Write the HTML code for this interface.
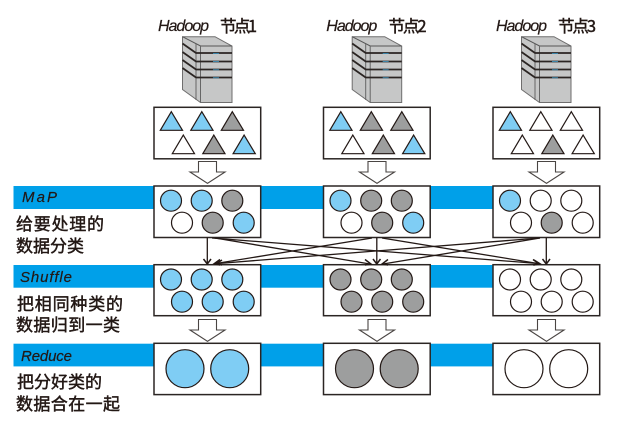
<!DOCTYPE html>
<html><head><meta charset="utf-8">
<style>
html,body{margin:0;padding:0;background:#fff;width:618px;height:426px;overflow:hidden}
svg{display:block}
.e{font-family:"Liberation Sans",sans-serif;font-style:italic;fill:#231815;stroke:#231815;stroke-width:.2}
.c{font-family:"WenQuanYi Zen Hei","Noto Sans CJK SC",sans-serif;fill:#231815;stroke:#231815;stroke-width:.45}
.b{fill:#fff;stroke:#2b2523;stroke-width:1.5}
.l{fill:#7fcdf4;stroke:#231815;stroke-width:1.2}
.g{fill:#9d9e9e;stroke:#231815;stroke-width:1.2}
.w{fill:#fff;stroke:#231815;stroke-width:1.2}
.cn{stroke:#231815;stroke-width:1.3;fill:none}
</style></head><body>
<svg width="618" height="426" viewBox="0 0 618 426" xmlns="http://www.w3.org/2000/svg">
<defs>
<g id="srv">
<path d="M182.5 36.7H215L232 46V102.5H200.500L182.500 89.500Z" fill="#c6c7c7" stroke="#6f6e6e" stroke-width="1"/>
<path d="M182.500 36.700L200.500 46H232" fill="none" stroke="#555" stroke-width="1"/>
<path d="M196 44V100M200.500 46V102.500" fill="none" stroke="#666" stroke-width="1"/>
<path d="M182.500 43.500L196 53H232M182.500 52L196 61.500H232M182.500 60L196 69.500H232M182.500 68L196 77.500H232" fill="none" stroke="#2b2523" stroke-width="1.800"/>
<path d="M213 53.500h6M213 61.500h6M213 69.700h6M213 77.700h6" stroke="#3c84a8" stroke-width="1"/>
</g>
<g id="arr"><path d="M198.500 161.500H216.500V172H225L207.500 183.300L190 172H198.500Z" fill="#fff" stroke="#4a4543" stroke-width="1.100"/></g>
<g id="t1"><path d="M171.300 111.700L182.500 130.300H160.300Z"/></g>
</defs>

<!-- bands -->
<rect x="13.500" y="186" width="480" height="23" fill="#00a0e9"/>
<rect x="13.500" y="265" width="480" height="22.700" fill="#00a0e9"/>
<rect x="13.500" y="343.700" width="480" height="22.700" fill="#00a0e9"/>

<!-- servers -->
<use href="#srv"/><use href="#srv" x="169.700"/><use href="#srv" x="339"/>

<!-- titles -->
<g font-size="16">
<text class="e" x="158" y="31" textLength="51">Hadoop</text>
<text class="c" x="220" y="32" font-size="16.500" textLength="37">节点1</text>
<text class="e" x="326.300" y="31" textLength="51">Hadoop</text>
<text class="c" x="388.500" y="32" font-size="16.500" textLength="38">节点2</text>
<text class="e" x="496" y="31" textLength="51">Hadoop</text>
<text class="c" x="558" y="32" font-size="16.500" textLength="38">节点3</text>
</g>

<!-- boxes -->
<g class="b">
<rect x="154" y="107.300" width="106.700" height="51.500"/>
<rect x="323.500" y="107.300" width="106.700" height="51.500"/>
<rect x="493" y="107.300" width="106.700" height="51.500"/>
<rect x="154" y="186" width="106.700" height="51.500"/>
<rect x="323.500" y="186" width="106.700" height="51.500"/>
<rect x="493" y="186" width="106.700" height="51.500"/>
<rect x="154" y="264.700" width="106.700" height="51"/>
<rect x="323.500" y="264.700" width="106.700" height="51"/>
<rect x="493" y="264.700" width="106.700" height="51"/>
<rect x="154" y="343.300" width="106.700" height="51.300"/>
<rect x="323.500" y="343.300" width="106.700" height="51.300"/>
<rect x="493" y="343.300" width="106.700" height="51.300"/>
</g>

<!-- triangles -->
<use href="#t1" class="l"/><use href="#t1" class="l" x="30.500"/><use href="#t1" class="g" x="61"/>
<use href="#t1" class="w" x="12" y="23.400"/><use href="#t1" class="g" x="42.500" y="23.400"/><use href="#t1" class="l" x="72.800" y="23.400"/>
<use href="#t1" class="l" x="169.500"/><use href="#t1" class="g" x="200"/><use href="#t1" class="g" x="230.500"/>
<use href="#t1" class="w" x="181.500" y="23.400"/><use href="#t1" class="g" x="212" y="23.400"/><use href="#t1" class="l" x="242.300" y="23.400"/>
<use href="#t1" class="l" x="339"/><use href="#t1" class="w" x="369.500"/><use href="#t1" class="w" x="400"/>
<use href="#t1" class="w" x="351" y="23.400"/><use href="#t1" class="g" x="381.500" y="23.400"/><use href="#t1" class="w" x="411.800" y="23.400"/>

<!-- block arrows -->
<use href="#arr"/><use href="#arr" x="169.500"/><use href="#arr" x="339"/>
<use href="#arr" y="158"/><use href="#arr" x="169.500" y="158"/><use href="#arr" x="339" y="158"/>

<!-- map circles -->
<circle class="l" cx="171" cy="200.700" r="10.500"/><circle class="l" cx="201.700" cy="200.700" r="10.500"/><circle class="g" cx="232.300" cy="200.700" r="10.500"/>
<circle class="w" cx="182" cy="222.700" r="10.500"/><circle class="g" cx="212.700" cy="222.700" r="10.500"/><circle class="l" cx="243.700" cy="222.700" r="10.500"/>
<circle class="l" cx="340.500" cy="200.700" r="10.500"/><circle class="g" cx="371.200" cy="200.700" r="10.500"/><circle class="g" cx="401.800" cy="200.700" r="10.500"/>
<circle class="w" cx="351.500" cy="222.700" r="10.500"/><circle class="g" cx="382.200" cy="222.700" r="10.500"/><circle class="l" cx="413.200" cy="222.700" r="10.500"/>
<circle class="l" cx="510" cy="200.700" r="10.500"/><circle class="w" cx="540.700" cy="200.700" r="10.500"/><circle class="w" cx="571.300" cy="200.700" r="10.500"/>
<circle class="w" cx="521" cy="222.700" r="10.500"/><circle class="g" cx="551.700" cy="222.700" r="10.500"/><circle class="w" cx="582.700" cy="222.700" r="10.500"/>

<!-- shuffle circles -->
<circle class="l" cx="171" cy="279.500" r="10.500"/><circle class="l" cx="201.700" cy="279.500" r="10.500"/><circle class="l" cx="232.300" cy="279.500" r="10.500"/>
<circle class="l" cx="182" cy="301.700" r="10.500"/><circle class="l" cx="212.700" cy="301.700" r="10.500"/><circle class="l" cx="243.700" cy="301.700" r="10.500"/>
<circle class="g" cx="340.500" cy="279.500" r="10.500"/><circle class="g" cx="371.200" cy="279.500" r="10.500"/><circle class="g" cx="401.800" cy="279.500" r="10.500"/>
<circle class="g" cx="351.500" cy="301.700" r="10.500"/><circle class="g" cx="382.200" cy="301.700" r="10.500"/><circle class="g" cx="413.200" cy="301.700" r="10.500"/>
<circle class="w" cx="510" cy="279.500" r="10.500"/><circle class="w" cx="540.700" cy="279.500" r="10.500"/><circle class="w" cx="571.300" cy="279.500" r="10.500"/>
<circle class="w" cx="521" cy="301.700" r="10.500"/><circle class="w" cx="551.700" cy="301.700" r="10.500"/><circle class="w" cx="582.700" cy="301.700" r="10.500"/>

<!-- reduce circles -->
<circle class="l" cx="185" cy="368.700" r="19"/><circle class="l" cx="229.700" cy="368.700" r="19"/>
<circle class="g" cx="354.500" cy="368.700" r="19"/><circle class="g" cx="399.200" cy="368.700" r="19"/>
<circle class="w" cx="524" cy="368.700" r="19"/><circle class="w" cx="568.700" cy="368.700" r="19"/>

<!-- connectors -->
<g class="cn">
<path d="M207.300 237.500V263.500"/>
<path d="M376.800 237.500V263.500"/>
<path d="M546.300 237.500V263.500"/>
<path d="M372 238L216 263.500"/>
<path d="M540 238L218 263.500"/>
<path d="M215 238L370 264"/>
<path d="M212 238L538 263.500"/>
<path d="M382 238L538 263.500"/>
<path d="M540 238L383 264"/>
</g>
<g fill="none" stroke="#231815" stroke-width="1.500">
<path d="M203.500 259L207.300 264L211 259"/>
<path d="M373 259L376.800 264L380.500 259"/>
<path d="M542.500 259L546.300 264L550 259"/>
<path d="M220 259.500L214 263.800L220 265"/>
<path d="M222 260L216 263.800L222 265"/>
<path d="M365 259.500L371 264L365 265"/>
<path d="M388 259.500L382 264L388 265"/>
<path d="M533 259.500L539 263.800L533 265"/>
<path d="M534 260L540 263.800L534 265"/>
</g>

<!-- labels -->
<text class="e" x="22" y="202" font-size="15" textLength="35">MaP</text>
<text class="e" x="20" y="282" font-size="15" textLength="52">Shuffle</text>
<text class="e" x="21" y="361" font-size="15" textLength="51">Reduce</text>

<g font-size="17">
<text class="c" x="16" y="230" textLength="88">给要处理的</text>
<text class="c" x="16" y="252" textLength="68">数据分类</text>
<text class="c" x="17" y="310" textLength="106">把相同种类的</text>
<text class="c" x="16" y="331" textLength="104">数据归到一类</text>
<text class="c" x="17" y="388" textLength="85">把分好类的</text>
<text class="c" x="16" y="410" textLength="104">数据合在一起</text>
</g>
</svg>
</body></html>
